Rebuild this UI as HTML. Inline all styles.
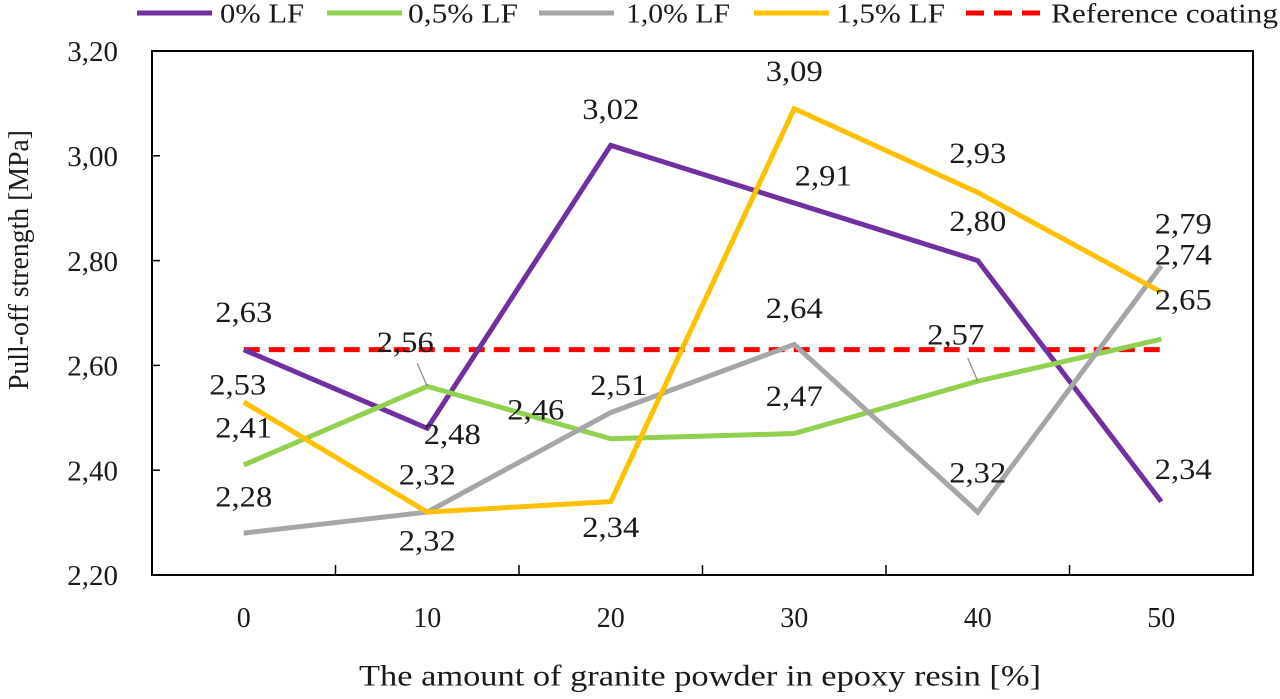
<!DOCTYPE html>
<html><head><meta charset="utf-8"><style>
body{margin:0;background:#fff;}
svg text{font-family:"Liberation Serif","Times New Roman",Times,serif;fill:#1a1a1a;}
</style></head><body>
<svg id="c" width="1280" height="694" font-family="Liberation Serif, Times New Roman, serif"></svg>
<script>
const categories=[0,10,20,30,40,50];
const s0=[2.63,2.48,3.02,2.91,2.80,2.34];
const s05=[2.41,2.56,2.46,2.47,2.57,2.65];
const s10=[2.28,2.32,2.51,2.64,2.32,2.79];
const s15=[2.53,2.32,2.34,3.09,2.93,2.74];
const refValue=2.63;
const yTicks=[2.2,2.4,2.6,2.8,3.0,3.2];
const names=['0% LF','0,5% LF','1,0% LF','1,5% LF'];
const svg=document.getElementById('c');
const NS='http://www.w3.org/2000/svg';
const L=152,R=1253,T=51,B=575,ymin=2.2,ymax=3.2;
const step=(R-L)/categories.length;
const x=i=>L+step*(i+0.5);
const y=v=>B-(v-ymin)/(ymax-ymin)*(B-T);
function mk(tag,a,p){const e=document.createElementNS(NS,tag);for(const k in a)e.setAttribute(k,a[k]);(p||svg).appendChild(e);return e;}
const fmt=v=>v.toFixed(2).replace('.',',');
let e=mk('rect',{x:L,y:T,width:R-L,height:B-T,fill:'none',stroke:'#000','stroke-width':2});

yTicks.forEach(v=>{mk('line',{x1:L,y1:y(v),x2:L+8,y2:y(v),stroke:'#000','stroke-width':1.5});
 const t=mk('text',{x:118,y:y(v),dy:'0.35em','text-anchor':'end','font-size':29});t.textContent=fmt(v);
 });
for(let i=1;i<categories.length;i++)mk('line',{x1:L+step*i,y1:B,x2:L+step*i,y2:B-10,stroke:'#000','stroke-width':1.5});
categories.forEach((c,i)=>{const t=mk('text',{x:x(i),y:617,dy:'0.35em','text-anchor':'middle','font-size':28});t.textContent=c;
 });
e=mk('text',{x:700,y:675,dy:'0.35em','text-anchor':'middle','font-size':30,textLength:682,lengthAdjust:'spacingAndGlyphs'});e.textContent='The amount of granite powder in epoxy resin [%]';

e=mk('text',{x:0,y:0,dy:'0.35em','text-anchor':'middle','font-size':29,textLength:260,lengthAdjust:'spacingAndGlyphs',transform:'translate(18,260) rotate(-90)'});e.textContent='Pull-off strength [MPa]';

e=mk('line',{x1:x(0),y1:y(refValue),x2:x(5),y2:y(refValue),stroke:'#ff0000','stroke-width':5,'stroke-dasharray':'16,9'});

const series=[s0,s05,s10,s15];
const colors=['#7030a0','#92d050','#a6a6a6','#ffc000'];
const offs=[
 [[0,-38],[25,5],[0,-37],[29,-28],[0,-40],[22,-33]],
 [[0,-38],[-22,-45],[-75,-30],[0,-38],[-22,-47],[22,-40]],
 [[0,-37],[0,-38],[8,-28],[0,-37],[0,-40],[22,-43]],
 [[-6,-18],[0,28],[0,25],[0,-38],[0,-40],[22,-38]]];
series.forEach((s,k)=>{
 const p=mk('polyline',{points:s.map((v,i)=>x(i)+','+y(v)).join(' '),fill:'none',stroke:colors[k],'stroke-width':5,'stroke-linejoin':'miter'});
 
});
[1,4].forEach(i=>{const l=mk('line',{x1:x(i),y1:y(s05[i]),x2:x(i)-10,y2:y(s05[i])-23,stroke:'#888','stroke-width':1.2});
 });
series.forEach((s,k)=>{s.forEach((v,i)=>{const t=mk('text',{x:x(i)+offs[k][i][0],y:y(v)+offs[k][i][1],dy:'0.35em','text-anchor':'middle','font-size':30,textLength:57,lengthAdjust:'spacingAndGlyphs'});
 t.textContent=fmt(v);});});
const lg=[[137,220],[327,408],[539,626],[754,836]];
const lw=[84,110,104,109];
lg.forEach((p,k)=>{const g=mk('g',{});
 mk('line',{x1:p[0],y1:13,x2:p[0]+75,y2:13,stroke:colors[k],'stroke-width':5},g);
 const t=mk('text',{x:p[1],y:13,dy:'0.35em','font-size':27,textLength:lw[k],lengthAdjust:'spacingAndGlyphs'},g);t.textContent=names[k];});
const g=mk('g',{});
mk('line',{x1:966,y1:13,x2:1040,y2:13,stroke:'#ff0000','stroke-width':5,'stroke-dasharray':'18,10'},g);
const t=mk('text',{x:1051,y:13,dy:'0.35em','font-size':27,textLength:227,lengthAdjust:'spacingAndGlyphs'},g);t.textContent='Reference coating';
</script>
</body></html>
